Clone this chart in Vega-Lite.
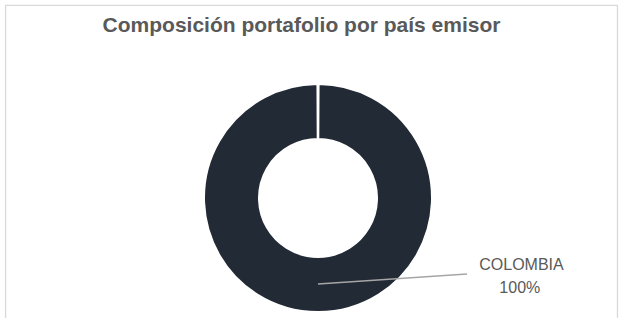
{
  "$schema": "https://vega.github.io/schema/vega-lite/v6.json",
  "width": 619,
  "height": 278,
  "autosize": {"type": "none"},
  "padding": {"left": 0, "right": 0, "top": 40, "bottom": 0},
  "background": "white",
  "title": {
    "text": "Composición portafolio por país emisor",
    "font": "Liberation Sans",
    "fontSize": 21,
    "fontWeight": "bold",
    "color": "#595959",
    "anchor": "middle",
    "frame": "group",
    "baseline": "alphabetic",
    "offset": -48,
    "dx": -8
  },
  "data": {"values": [{"pais": "COLOMBIA", "share": 1}]},
  "config": {"view": {"stroke": null}},
  "layer": [
    {
      "mark": {"type": "rect", "fill": null, "stroke": "#d9d9d9", "strokeWidth": 1.3},
      "encoding": {
        "x": {"datum": -2.765, "type": "quantitative", "axis": null, "scale": {"domain": [-2.8142, 2.6637], "nice": false, "zero": false}},
        "x2": {"datum": 2.650},
        "y": {"datum": 1.704, "type": "quantitative", "axis": null, "scale": {"domain": [-1.0619, 1.3982], "nice": false, "zero": false}},
        "y2": {"datum": -1.3}
      }
    },
    {
      "mark": {"type": "arc", "innerRadius": 59, "outerRadius": 114, "color": "#222a35", "stroke": "white", "strokeWidth": 2},
      "encoding": {
        "theta": {"field": "share", "type": "quantitative", "stack": true, "scale": {"range": [0.005, 6.2782]}},
        "x": {"datum": 0, "type": "quantitative", "axis": null, "scale": {"domain": [-2.8142, 2.6637], "nice": false, "zero": false}},
        "y": {"datum": 0, "type": "quantitative", "axis": null, "scale": {"domain": [-1.0619, 1.3982], "nice": false, "zero": false}}
      }
    },
    {
      "mark": {"type": "rule", "color": "#a6a6a6", "strokeWidth": 1.5},
      "encoding": {
        "x": {"datum": 0, "type": "quantitative", "axis": null, "scale": {"domain": [-2.8142, 2.6637], "nice": false, "zero": false}},
        "x2": {"datum": 1.319},
        "y": {"datum": -0.761, "type": "quantitative", "axis": null, "scale": {"domain": [-1.0619, 1.3982], "nice": false, "zero": false}},
        "y2": {"datum": -0.6726}
      }
    },
    {
      "mark": {"type": "text", "font": "Liberation Sans", "fontSize": 16, "color": "#595959", "align": "center", "baseline": "alphabetic"},
      "encoding": {
        "text": {"field": "pais", "type": "nominal"},
        "x": {"datum": 1.801, "type": "quantitative", "axis": null, "scale": {"domain": [-2.8142, 2.6637], "nice": false, "zero": false}},
        "y": {"datum": -0.637, "type": "quantitative", "axis": null, "scale": {"domain": [-1.0619, 1.3982], "nice": false, "zero": false}}
      }
    },
    {
      "mark": {"type": "text", "font": "Liberation Sans", "fontSize": 16, "color": "#595959", "align": "center", "baseline": "alphabetic"},
      "encoding": {
        "text": {"field": "share", "type": "quantitative", "format": ".0%"},
        "x": {"datum": 1.786, "type": "quantitative", "axis": null, "scale": {"domain": [-2.8142, 2.6637], "nice": false, "zero": false}},
        "y": {"datum": -0.841, "type": "quantitative", "axis": null, "scale": {"domain": [-1.0619, 1.3982], "nice": false, "zero": false}}
      }
    }
  ]
}
